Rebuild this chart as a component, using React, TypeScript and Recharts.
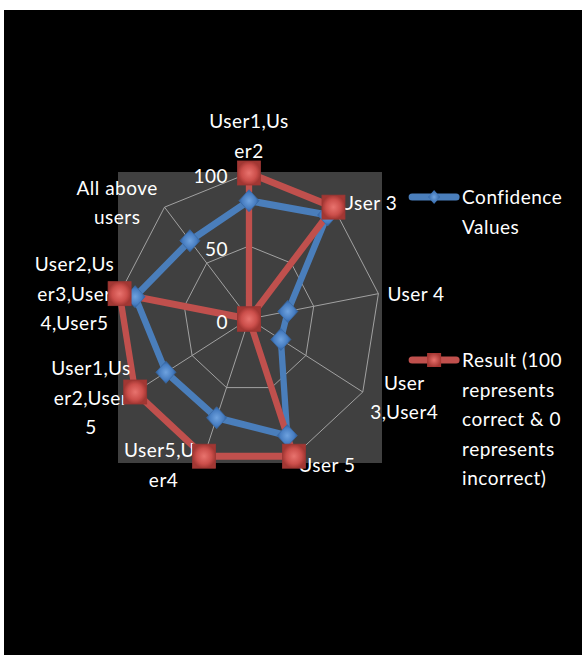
import React from 'react'
import { RadarChart, Radar, PolarGrid, PolarAngleAxis, PolarRadiusAxis, Legend } from 'recharts'

const categories = [
  'User1,User2',
  'User 3',
  'User 4',
  'User 3,User4',
  'User 5',
  'User5,User4',
  'User1,User2,User5',
  'User2,User3,User4,User5',
  'All above users',
]
const confidenceValues = [81, 93, 30, 28, 85, 72, 73, 88, 70]
const resultValues = [100, 100, 0, 0, 100, 100, 100, 100, 0]
const radiusTicks = [0, 50, 100]

// wrapped category labels, broken the way the spreadsheet breaks them
const labelLines: Record<string, string[]> = {
  'User1,User2': ['User1,Us', 'er2'],
  'User 3': ['User 3'],
  'User 4': ['User 4'],
  'User 3,User4': ['User', '3,User4'],
  'User 5': ['User 5'],
  'User5,User4': ['User5,Us', 'er4'],
  'User1,User2,User5': ['User1,Us', 'er2,User', '5'],
  'User2,User3,User4,User5': ['User2,Us', 'er3,User', '4,User5'],
  'All above users': ['All above', 'users'],
}

const CONF_NAME = 'Confidence Values'
const RESULT_NAME = 'Result (100 represents correct & 0 represents incorrect)'

const data = categories.map((category, i) => ({
  category,
  confidence: confidenceValues[i],
  result: resultValues[i],
}))

const BLUE = '#4a7ebb'
const RED = '#c0504d'
const FONT = 'Lato, "Open Sans", sans-serif'
const SX = 0.9 // the polar plot is drawn squeezed horizontally
const LINE_H = 29.5

const textStyle = { fontFamily: FONT, fontSize: 19, letterSpacing: 0.5, fill: '#ffffff' }

const AngleTick = (props: any) => {
  const { x, y, payload, textAnchor } = props
  const lines = labelLines[payload.value] ?? [String(payload.value)]
  const w = Math.max(...lines.map((l) => l.length)) * 9.5
  let cxText = 0
  if (textAnchor === 'start') cxText = 2 + w / 2
  if (textAnchor === 'end') cxText = -w / 2
  return (
    <g transform={`translate(${x},${y}) scale(${1 / SX},1)`}>
      {lines.map((line, i) => {
        const dy = textAnchor === 'middle' ? -15 - (lines.length - 1 - i) * LINE_H : (i - (lines.length - 1) / 2) * LINE_H + 1
        return (
          <text key={i} x={cxText} y={dy} textAnchor="middle" dominantBaseline="central" style={textStyle}>
            {line}
          </text>
        )
      })}
    </g>
  )
}

const RadiusTick = (props: any) => {
  const { x, y, payload } = props
  return (
    <g transform={`translate(${x},${y}) scale(${1 / SX},1)`}>
      <text x={-21} y={2} textAnchor="end" dominantBaseline="central" style={textStyle}>
        {payload.value}
      </text>
    </g>
  )
}

const DiamondDot = (props: any) => {
  const { cx, cy, index } = props
  return (
    <g key={`d-${index}`} transform={`translate(${cx},${cy}) scale(${1 / SX},1)`}>
      <path d="M0,-11 L10,0 L0,11 L-10,0 Z" fill="url(#blueBevel)" stroke="#3a6aa5" strokeWidth={0.8} />
    </g>
  )
}

const SquareDot = (props: any) => {
  const { cx, cy, index } = props
  return (
    <g key={`s-${index}`} transform={`translate(${cx},${cy}) scale(${1 / SX},1)`}>
      <rect x={-11.5} y={-12} width={23} height={24} fill="url(#redBevel)" stroke="#9b3633" strokeWidth={0.8} />
    </g>
  )
}

const LegendIcon = ({ color, marker }: { color: string; marker: 'diamond' | 'square' }) => (
  <svg width={52} height={20} style={{ position: 'absolute', left: 0, top: 5 }}>
    <line x1={4} y1={10} x2={48} y2={10} stroke={color} strokeWidth={7} strokeLinecap="round" />
    {marker === 'diamond' ? (
      <path d="M26,3 L32,10 L26,17 L20,10 Z" fill="url(#blueBevelLegend)" />
    ) : (
      <rect x={19} y={3} width={14} height={14} fill="url(#redBevelLegend)" />
    )}
    <defs>
      <radialGradient id="blueBevelLegend">
        <stop offset="0%" stopColor="#6fa3e0" />
        <stop offset="100%" stopColor="#2f64a6" />
      </radialGradient>
      <radialGradient id="redBevelLegend">
        <stop offset="0%" stopColor="#e8706b" />
        <stop offset="100%" stopColor="#a63733" />
      </radialGradient>
    </defs>
  </svg>
)

const renderLegend = () => {
  const entries = [
    { name: CONF_NAME, color: BLUE, marker: 'diamond' as const, top: 0 },
    { name: RESULT_NAME, color: RED, marker: 'square' as const, top: 163 },
  ]
  return (
    <div style={{ position: 'relative', width: 180, height: 320 }}>
      {entries.map((e) => (
        <div key={e.name} style={{ position: 'absolute', left: 0, top: e.top }}>
          <LegendIcon color={e.color} marker={e.marker} />
          <div
            style={{
              marginLeft: 54,
              width: 120,
              fontFamily: FONT,
              fontSize: 19,
              letterSpacing: 0.5,
              lineHeight: `${LINE_H}px`,
              color: '#ffffff',
            }}
          >
            {e.name}
          </div>
        </div>
      ))}
    </div>
  )
}

export default function App() {
  return (
    <div style={{ position: 'fixed', left: 4, top: 10, width: 578, height: 645, background: '#000000', overflow: 'hidden' }}>
      {/* plot area */}
      <div style={{ position: 'absolute', left: 114, top: 162, width: 264, height: 291, background: '#404040' }} />
      <div style={{ position: 'absolute', left: 0, top: 0, transform: `scaleX(${SX})`, transformOrigin: '0 0' }}>
        <RadarChart
          width={640}
          height={645}
          data={data}
          cx={245 / SX}
          cy={309}
          outerRadius={146}
          margin={{ top: 0, right: 0, bottom: 0, left: 0 }}
        >
          <defs>
            <radialGradient id="blueBevel">
              <stop offset="0%" stopColor="#6ea2df" />
              <stop offset="70%" stopColor="#467cc0" />
              <stop offset="100%" stopColor="#2d5f9f" />
            </radialGradient>
            <radialGradient id="redBevel">
              <stop offset="0%" stopColor="#e8736e" />
              <stop offset="65%" stopColor="#cc4f4b" />
              <stop offset="100%" stopColor="#a23733" />
            </radialGradient>
          </defs>
          <PolarGrid gridType="polygon" stroke="#a6a6a6" strokeWidth={1} />
          <PolarAngleAxis dataKey="category" tick={AngleTick} tickLine={false} axisLine={false} />
          <PolarRadiusAxis
            angle={90}
            domain={[0, 100]}
            ticks={radiusTicks as any}
            tickCount={3}
            tick={RadiusTick}
            axisLine={false}
          />
          <Radar
            name={CONF_NAME}
            dataKey="confidence"
            stroke={BLUE}
            strokeWidth={7}
            strokeLinejoin="round"
            fill="none"
            fillOpacity={0}
            dot={DiamondDot}
            isAnimationActive={false}
          />
          <Radar
            name={RESULT_NAME}
            dataKey="result"
            stroke={RED}
            strokeWidth={7}
            strokeLinejoin="round"
            fill="none"
            fillOpacity={0}
            dot={SquareDot}
            isAnimationActive={false}
          />
          <Legend
            content={renderLegend}
            wrapperStyle={{
              position: 'absolute',
              left: 404 / SX,
              top: 172,
              width: 180,
              transform: `scaleX(${1 / SX})`,
              transformOrigin: '0 0',
            }}
          />
        </RadarChart>
      </div>
    </div>
  )
}
